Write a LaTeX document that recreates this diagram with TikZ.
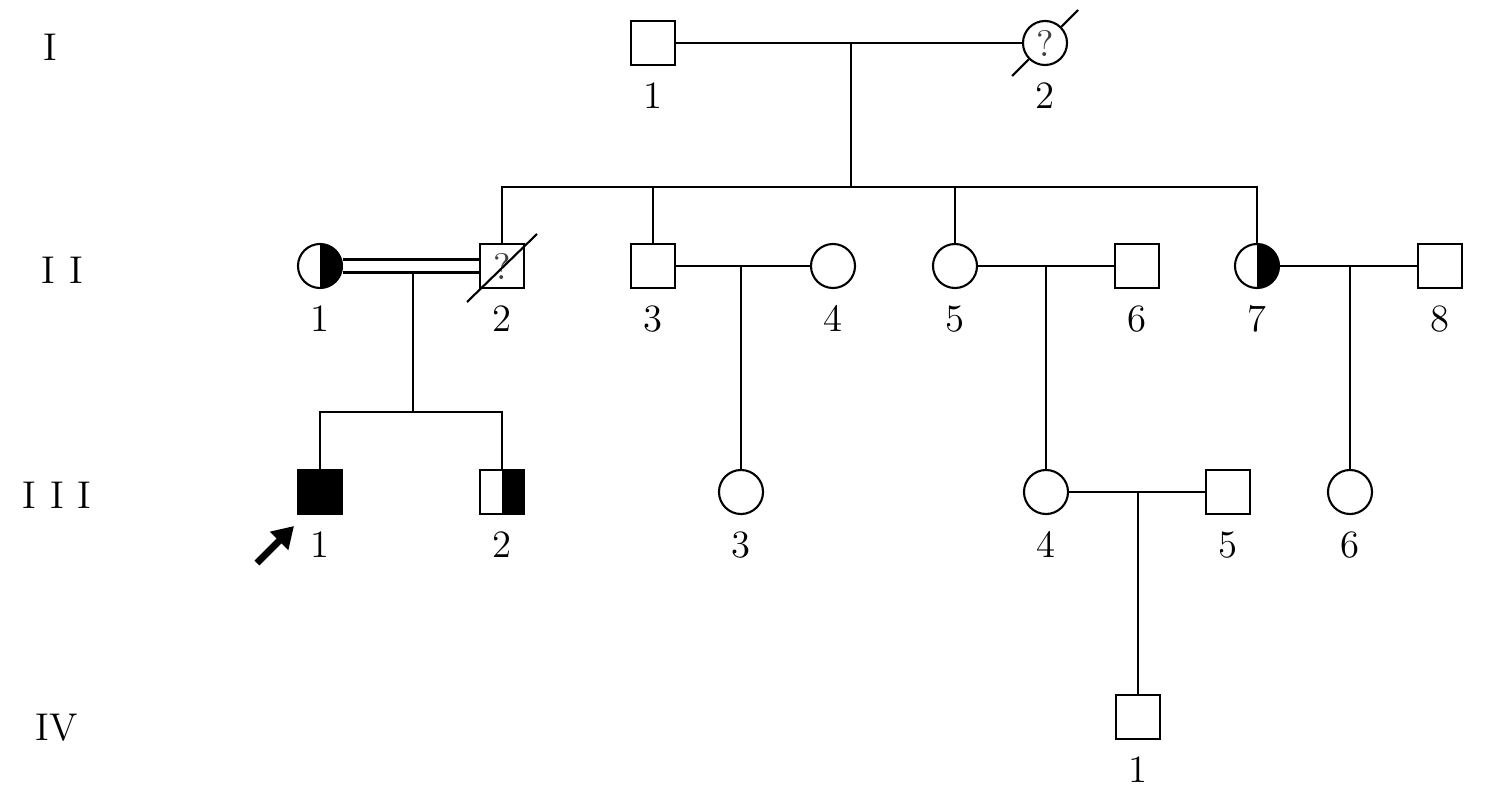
\documentclass[tikz,border=0pt]{standalone}
\usetikzlibrary{positioning}
\usetikzlibrary{calc}
\usetikzlibrary{arrows.meta}

\begin{document}
\begin{tikzpicture}[x=0.01cm, y=-0.01cm, line width=0.6pt, label distance=1pt,
    every node/.style={font=\fontsize{11}{13}\selectfont},
    male/.style={draw, rectangle, minimum size=0.44cm, inner sep=0pt},
    female/.style={draw, circle, minimum size=0.44cm, inner sep=0pt},
    affected/.style={fill=black},
    carrier/.style={path picture={\fill (path picture bounding box.north) rectangle (path picture bounding box.south east);}},
    unknown/.style={font=\fontsize{10.5}{12}\selectfont, text=black!75},
    gen/.style={font=\fontsize{11}{13}\selectfont}]
    \useasboundingbox (0,0) rectangle (1500,794);

    % generation numbers
    \node[gen] (gI)   at (50,47)  {I};
    \node[gen] (gII)  at (62,270) {I\hspace{4pt}I};
    \node[gen] (gIII) at (57,495) {I\hspace{4pt}I\hspace{4pt}I};
    \node[gen] (gIV)  at (57,728) {IV};

    % generation I
    \node (i1) [male, label=below:1] at (653,43) {};
    \node (i2) [female, unknown, label=below:2] at (1045,43) {?};

    % generation II
    \node (ii1) [female, carrier, label=below:1] at (320,266) {};
    \node (ii2) [male, unknown, label=below:2] at (502,266) {?};
    \node (ii3) [male, label=below:3] at (653,266) {};
    \node (ii4) [female, label=below:4] at (833,266) {};
    \node (ii5) [female, label=below:5] at (955,266) {};
    \node (ii6) [male, label=below:6] at (1137,266) {};
    \node (ii7) [female, carrier, label=below:7] at (1257,266) {};
    \node (ii8) [male, label=below:8] at (1440,266) {};

    % generation III
    \node (iii1) [male, affected, label=below:1] at (320,492) {};
    \node (iii2) [male, carrier, label=below:2] at (502,492) {};
    \node (iii3) [female, label=below:3] at (741,492) {};
    \node (iii4) [female, label=below:4] at (1046,492) {};
    \node (iii5) [male, label=below:5] at (1228,492) {};
    \node (iii6) [female, label=below:6] at (1350,492) {};

    % generation IV
    \node (iv1) [male, label=below:1] at (1138,717) {};

    % deceased
    \draw ($(i2)+(-33,33)$) -- (i2.south west);
    \draw (i2.north east) -- ($(i2)+(33,-33)$);
    \draw ($(ii2)+(-35,36)$) -- ($(ii2)+(35,-32)$);

    % I-1 x I-2
    \coordinate (m1) at (851,43);
    \coordinate (s1) at (851,187);
    \draw (i1) -- (i2);
    \draw (m1) -- (s1);
    \draw (ii2.north) |- (s1);
    \draw (ii7.north) |- (s1);
    \draw (ii3.north) -- (ii3.north |- s1);
    \draw (ii5.north) -- (ii5.north |- s1);

    % II-1 x II-2 (consanguineous)
    \coordinate (m2) at (413,273);
    \coordinate (s2) at (413,412);
    \draw[double, double distance=3.1pt] (ii1) -- (ii2);
    \draw (m2) -- (s2);
    \draw (iii1.north) |- (s2);
    \draw (iii2.north) |- (s2);

    % II-3 x II-4
    \coordinate (m3) at (741,266);
    \draw (ii3) -- (ii4);
    \draw (m3) -- (iii3.north);

    % II-5 x II-6
    \coordinate (m4) at (1046,266);
    \draw (ii5) -- (ii6);
    \draw (m4) -- (iii4.north);

    % II-7 x II-8
    \coordinate (m5) at (1350,266);
    \draw (ii7) -- (ii8);
    \draw (m5) -- (iii6.north);

    % III-4 x III-5
    \coordinate (m6) at (1138,492);
    \draw (iii4) -- (iii5);
    \draw (m6) -- (iv1.north);

    % proband
    \coordinate (arrtail) at (257,563);
    \coordinate (arrtip) at (294,526);
    \draw[line width=2pt, -{Triangle[length=6pt,width=7pt]}] (arrtail) -- (arrtip);
\end{tikzpicture}
\end{document}
